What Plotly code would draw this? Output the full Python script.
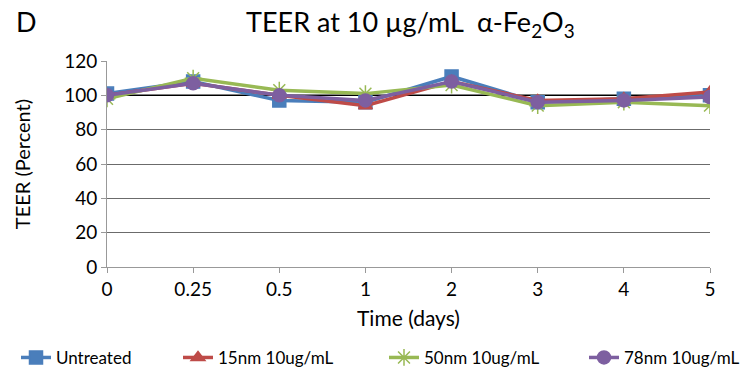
import plotly.graph_objects as go

days = ["0", "0.25", "0.5", "1", "2", "3", "4", "5"]
untreated = [101, 108, 97, 96, 111, 96, 98, 100]
nm15 = [100, 107, 100, 94, 108, 97, 98, 102]
nm50 = [98, 110, 103, 101, 106, 94, 96, 94]
nm78 = [100, 107, 100, 97, 108, 96, 97, 99]
baseline = [100] * len(days)
y_ticks = [0, 20, 40, 60, 80, 100, 120]

idx = list(range(len(days)))
FONT = "Lato, 'Open Sans', sans-serif"

fig = go.Figure()
fig.add_trace(go.Scatter(x=idx, y=baseline, mode="lines", line=dict(color="black", width=1.5),
                         showlegend=False, hoverinfo="skip"))
series = [
    ("Untreated", untreated, "#4a7ebb", "square", 13),
    ("15nm 10ug/mL", nm15, "#be4b48", "triangle-up", 12),
    ("50nm 10ug/mL", nm50, "#98b954", "asterisk-open", 14),
    ("78nm 10ug/mL", nm78, "#7d5fa0", "circle", 13),
]
legend_names = ["legend", "legend2", "legend3", "legend4"]
legend_x = [16, 178, 384, 584]
for (name, vals, col, sym, sz), lg in zip(series, legend_names):
    fig.add_trace(go.Scatter(
        x=idx, y=vals, name=name, mode="lines+markers", legend=lg,
        line=dict(color=col, width=3.5),
        marker=dict(symbol=sym, size=sz, color=col, line=dict(color=col, width=1.5)),
    ))

legend_common = dict(orientation="h", xref="container", yref="container", xanchor="left",
                     y=0.043, yanchor="middle", font=dict(size=17), bgcolor="rgba(0,0,0,0)")
layout_legends = {lg: dict(legend_common, x=lx / 753) for lg, lx in zip(legend_names, legend_x)}

fig.update_layout(
    width=753, height=374,
    margin=dict(l=107, r=43, t=61, b=107, autoexpand=False),
    paper_bgcolor="white", plot_bgcolor="white",
    font=dict(family=FONT, size=19, color="black"),
    title=dict(text="TEER at 10 µg/mL  α-Fe<sub>2</sub>O<sub>3</sub>", x=0.545, xanchor="center",
               y=0.94, yanchor="middle", font=dict(size=27, family=FONT)),
    showlegend=True,
    xaxis=dict(
        tickmode="array", tickvals=idx, ticktext=days, range=[0, len(days) - 1],
        showgrid=False, showline=True, linecolor="#999", linewidth=1,
        ticks="outside", ticklen=5, tickcolor="#999", zeroline=False,
        title=dict(text="Time (days)", font=dict(size=21), standoff=12),
        tickfont=dict(size=19),
    ),
    yaxis=dict(
        range=[0, 120], tickvals=y_ticks, showgrid=True, gridcolor="#6b6b6b", gridwidth=1,
        showline=True, linecolor="#999", linewidth=1, ticks="outside", ticklen=5, tickcolor="#999",
        zeroline=False, title=dict(text="TEER (Percent)", font=dict(size=20), standoff=28),
        tickfont=dict(size=19),
    ),
    **layout_legends,
)
fig.add_annotation(text="D", xref="paper", yref="paper", x=-0.155, y=1.19, xanchor="left",
                   yanchor="middle", showarrow=False, font=dict(size=27, family=FONT))
fig.write_html("out.html")
